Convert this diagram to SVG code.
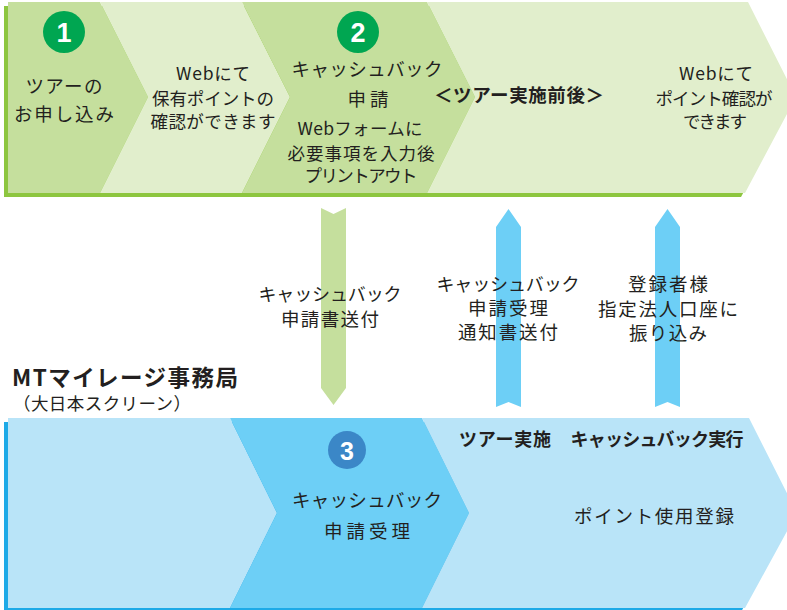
<svg xmlns="http://www.w3.org/2000/svg" width="787" height="610" viewBox="0 0 787 610">
<style>
text{font-family:"Noto Sans CJK JP","Noto Sans",sans-serif;fill:#231f20;text-anchor:middle;dominant-baseline:central;}
.s17{font-size:17.5px}
.s18{font-size:18px}
.s19{font-size:18.5px}
.b{font-weight:bold}
.num{fill:#fff;font-family:"Liberation Sans",Arial,sans-serif;font-weight:bold;font-size:27px}
.gd{fill:#c5df9d}
.gl{fill:#e1eecc}
.bl{fill:#b9e4f8}
.bm{fill:#6dcff6}
</style>
<rect width="787" height="610" fill="#fff"/>
<g id="top-band">
<polygon points="4,6 744,6 792,101 741,197 4,197" fill="#8dc63f"/>
<polygon class="gd" points="8,2 100,2 148,97 100,193 8,193"/>
<polygon class="gl" points="100,2 242,2 290,97 242,193 100,193 148,97"/>
<polygon class="gd" points="242,2 427,2 475,97 427,193 242,193 290,97"/>
<polygon class="gl" points="427,2 748,2 796,97 745,193 427,193 475,97"/>
</g>
<g id="step1">
<circle cx="64" cy="32" r="21" fill="#00a651"/>
<text class="num" x="64" y="33">1</text>
<text class="s19" x="64" y="85" textLength="77">ツアーの</text>
<text class="s19" x="64" y="113" textLength="100">お申し込み</text>
</g>
<g id="web-check">
<text class="s17" x="213" y="72" textLength="74">Webにて</text>
<text class="s17" x="213" y="97" textLength="122">保有ポイントの</text>
<text class="s17" x="213" y="120" textLength="125">確認ができます</text>
</g>
<g id="step2">
<circle cx="358" cy="32" r="21" fill="#00a651"/>
<text class="num" x="358" y="33">2</text>
<text class="s19" x="367" y="68" textLength="151">キャッシュバック</text>
<text class="s19" x="368" y="98" textLength="41">申請</text>
<text class="s17" x="360" y="127" textLength="125">Webフォームに</text>
<text class="s17" x="361" y="152" textLength="147">必要事項を入力後</text>
<text class="s17" x="361" y="174" textLength="113">プリントアウト</text>
</g>
<g id="tour-period">
<text class="s19 b" x="519" y="94" textLength="170">＜ツアー実施前後＞</text>
<text class="s17" x="716" y="72" textLength="74">Webにて</text>
<text class="s17" x="714" y="97" textLength="117">ポイント確認が</text>
<text class="s17" x="715" y="120" textLength="64">できます</text>
</g>
<g id="connectors">
<polygon class="gd" points="321,208 333.5,214 346,208 346,388 333.5,405 321,388"/>
<polygon class="bm" points="496,227 508.5,209 521,227 521,407 508.5,402 496,407"/>
<polygon class="bm" points="655,227 667.5,209 680,227 680,407 667.5,402 655,407"/>
</g>
<g id="label-send">
<text class="s18" x="330" y="293" textLength="143">キャッシュバック</text>
<text class="s19" x="330" y="318" textLength="98">申請書送付</text>
</g>
<g id="label-notice">
<text class="s18" x="508" y="283" textLength="143">キャッシュバック</text>
<text class="s19" x="508" y="307" textLength="80">申請受理</text>
<text class="s19" x="508" y="331" textLength="100">通知書送付</text>
</g>
<g id="label-transfer">
<text class="s19" x="668" y="283" textLength="80">登録者様</text>
<text class="s19" x="668" y="308" textLength="140">指定法人口座に</text>
<text class="s19" x="668" y="332" textLength="78">振り込み</text>
</g>
<g id="office">
<text class="b" style="font-size:22.5px;text-anchor:start" x="12" y="376" textLength="226">MTマイレージ事務局</text>
<text class="s17" style="text-anchor:start" x="13" y="402" textLength="178">（大日本スクリーン）</text>
</g>
<g id="bottom-band">
<polygon points="4,422 745,422 793,517 741,612 4,612" fill="#1eaae7"/>
<polygon class="bl" points="8,418 230,418 277,513 230,608 8,608"/>
<polygon class="bm" points="230,418 422,418 469,513 422,608 230,608 277,513"/>
<polygon class="bl" points="422,418 749,418 797,513 745,608 422,608 469,513"/>
</g>
<g id="step3">
<circle cx="347" cy="450" r="19" fill="#3b87c7"/>
<text class="num" x="347" y="451" style="font-size:25px">3</text>
<text class="s19" x="367" y="499" textLength="150">キャッシュバック</text>
<text class="s19" x="367" y="530" textLength="86">申請受理</text>
</g>
<g id="execution">
<text class="s18 b" x="505" y="438" textLength="92">ツアー実施</text>
<text class="s18 b" x="657" y="438" textLength="173">キャッシュバック実行</text>
<text class="s19" x="654" y="515" textLength="160">ポイント使用登録</text>
</g>
</svg>
